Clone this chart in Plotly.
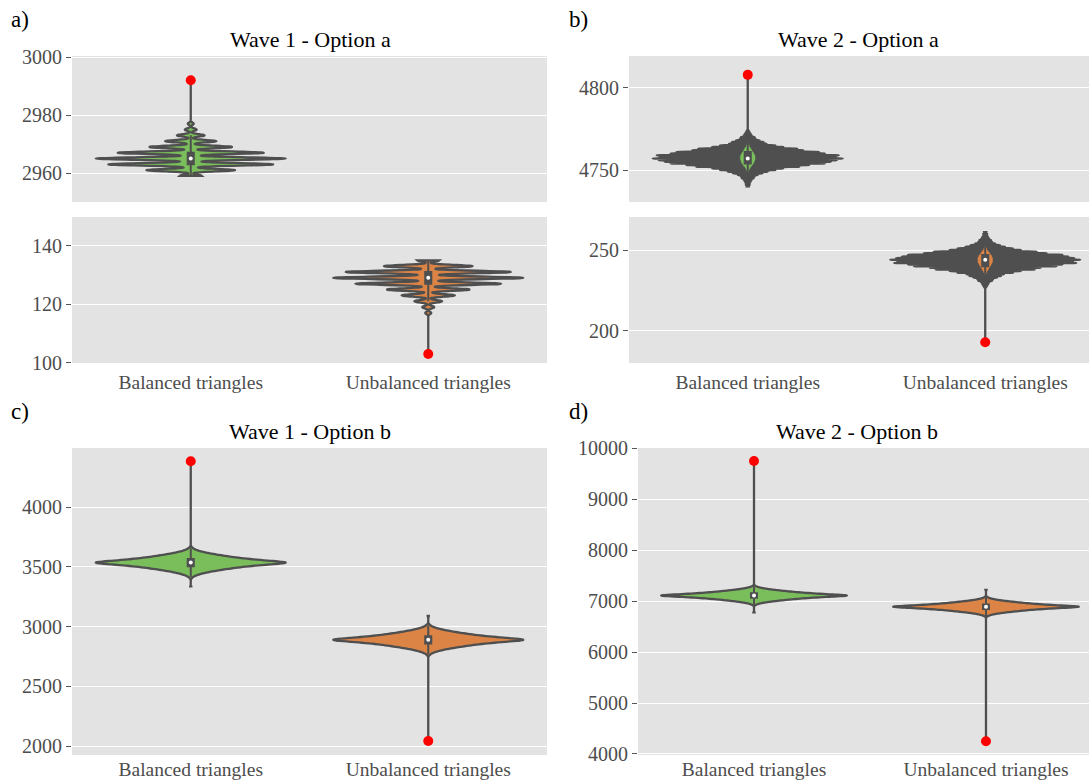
import numpy as np
import plotly.graph_objects as go

W, H = 1089, 782
categories = ["Balanced triangles", "Unbalanced triangles"]

# ---------------- Panel a) Wave 1 - Option a ----------------
w1a_bal_values = [2959, 2961, 2963, 2965, 2967, 2969, 2971, 2973, 2975, 2977, 2992]
w1a_bal_counts = [11, 45, 84, 96, 74, 42, 26, 14, 6, 3, 1]
w1a_unb_values = [103, 117, 119, 121, 123, 125, 127, 129, 131, 133, 135]
w1a_unb_counts = [1, 3, 6, 14, 27, 42, 74, 96, 84, 45, 11]
w1a_red = [2992, 103]

# ---------------- Panel b) Wave 2 - Option a ----------------
w2a_bal_values = [4740, 4741, 4742, 4743, 4744, 4745, 4746, 4747, 4748, 4749,
                  4750, 4751, 4752, 4753, 4754, 4755, 4756, 4757, 4758, 4759,
                  4760, 4761, 4762, 4763, 4764, 4765, 4766, 4767, 4768, 4769,
                  4770, 4771, 4772, 4773, 4774, 4808]
w2a_bal_counts = [1, 2, 2, 3, 4, 6, 7, 10, 15, 20,
                  28, 36, 52, 62, 78, 84, 90, 96, 89, 92,
                  78, 72, 56, 50, 36, 28, 19, 16, 12, 8,
                  7, 4, 3, 2, 1, 1]
w2a_unb_values = [193, 227, 228, 229, 230, 231, 232, 233, 234, 235,
                  236, 237, 238, 239, 240, 241, 242, 243, 244, 245,
                  246, 247, 248, 249, 250, 251, 252, 253, 254, 255,
                  256, 257, 258, 259, 260, 261]
w2a_unb_counts = [1, 1, 2, 3, 4, 7, 8, 12, 16, 19,
                  28, 36, 50, 56, 72, 78, 92, 89, 96, 90,
                  84, 78, 62, 52, 36, 28, 20, 15, 10, 7,
                  6, 4, 3, 2, 2, 1]
w2a_red = [4808, 193]

# ---------------- Panel c) Wave 1 - Option b ----------------
w1b_bal_values = [3336, 3405, 3415, 3425, 3435, 3445, 3455, 3465, 3475, 3485,
                  3495, 3505, 3515, 3525, 3535, 3545, 3555, 3565, 3575, 3585,
                  3595, 3605, 3615, 3625, 3635, 3645, 3655, 3665, 4383]
w1b_bal_counts = [1, 1, 2, 4, 7, 11, 16, 22, 29, 36,
                  44, 54, 66, 80, 96, 80, 66, 54, 44, 36,
                  29, 22, 16, 11, 7, 4, 2, 1, 1]
w1b_unb_values = [2042, 2759, 2769, 2779, 2789, 2799, 2809, 2819, 2829, 2839,
                  2849, 2859, 2869, 2879, 2889, 2899, 2909, 2919, 2929, 2939,
                  2949, 2959, 2969, 2979, 2989, 2999, 3009, 3019, 3088]
w1b_unb_counts = [1, 1, 2, 4, 7, 11, 16, 22, 29, 36,
                  44, 54, 66, 80, 96, 80, 66, 54, 44, 36,
                  29, 22, 16, 11, 7, 4, 2, 1, 1]
w1b_red = [4383, 2042]

# ---------------- Panel d) Wave 2 - Option b ----------------
w2b_bal_values = [6778, 6915, 6930, 6945, 6960, 6975, 6990, 7005, 7020, 7035,
                  7050, 7065, 7080, 7095, 7110, 7125, 7140, 7155, 7170, 7185,
                  7200, 7215, 7230, 7245, 7260, 7275, 7290, 7305, 9750]
w2b_bal_counts = [1, 1, 2, 4, 7, 11, 16, 22, 29, 36,
                  44, 54, 66, 80, 96, 80, 66, 54, 44, 36,
                  29, 22, 16, 11, 7, 4, 2, 1, 1]
w2b_unb_values = [4250, 6695, 6710, 6725, 6740, 6755, 6770, 6785, 6800, 6815,
                  6830, 6845, 6860, 6875, 6890, 6905, 6920, 6935, 6950, 6965,
                  6980, 6995, 7010, 7025, 7040, 7055, 7070, 7085, 7222]
w2b_unb_counts = [1, 1, 2, 4, 7, 11, 16, 22, 29, 36,
                  44, 54, 66, 80, 96, 80, 66, 54, 44, 36,
                  29, 22, 16, 11, 7, 4, 2, 1, 1]
w2b_red = [9750, 4250]

GREEN = "#7abd5b"
ORANGE = "#dc8446"
GREY = "#4f4f4f"
BG = "#e3e3e3"
FONT = '"Liberation Serif", "Times New Roman", Times, "DejaVu Serif", serif'


def expand(values, counts):
    return np.repeat(np.asarray(values, dtype=float), np.asarray(counts))


# subplot layout in pixels: x-domain, y-domain (top, bottom), ranges
panels = [
    dict(x=(72, 547), y=(56, 202), xr=[-0.5, 1.5], yr=[2950, 3000.4], dt=20, lab=False, tl=0,
         data=(w1a_bal_values, w1a_bal_counts, w1a_unb_values, w1a_unb_counts), red=w1a_red, bw=0.42),
    dict(x=(72, 547), y=(217, 363), xr=[-0.5, 1.5], yr=[99.9, 149.8], dt=20, lab=True, tl=2,
         data=(w1a_bal_values, w1a_bal_counts, w1a_unb_values, w1a_unb_counts), red=w1a_red, bw=0.42),
    dict(x=(629, 1089), y=(56, 202), xr=[-0.5, 1.437], yr=[4730.5, 4819.5], dt=50, lab=False, tl=0,
         data=(w2a_bal_values, w2a_bal_counts, w2a_unb_values, w2a_unb_counts), red=w2a_red, bw=0.2),
    dict(x=(629, 1089), y=(217, 363), xr=[-0.5, 1.437], yr=[180.2, 270.4], dt=50, lab=True, tl=2,
         data=(w2a_bal_values, w2a_bal_counts, w2a_unb_values, w2a_unb_counts), red=w2a_red, bw=0.2),
    dict(x=(72, 547), y=(448, 755), xr=[-0.5, 1.5], yr=[1925, 4494], dt=500, lab=True, tl=0,
         data=(w1b_bal_values, w1b_bal_counts, w1b_unb_values, w1b_unb_counts), red=w1b_red, bw=8),
    dict(x=(638, 1089), y=(448, 755), xr=[-0.5, 1.444], yr=[3980, 10005], dt=1000, lab=True, tl=0,
         data=(w2b_bal_values, w2b_bal_counts, w2b_unb_values, w2b_unb_counts), red=w2b_red, bw=11),
]

fig = go.Figure()
layout = dict(
    width=W, height=H, margin=dict(l=0, r=0, t=0, b=0, pad=0),
    paper_bgcolor="white", plot_bgcolor=BG, violinmode="overlay", showlegend=False,
    font=dict(family=FONT, color="#4d4d4d"),
)

for i, p in enumerate(panels, start=1):
    xa = "x" if i == 1 else f"x{i}"
    ya = "y" if i == 1 else f"y{i}"
    xkey = "xaxis" if i == 1 else f"xaxis{i}"
    ykey = "yaxis" if i == 1 else f"yaxis{i}"
    layout[xkey] = dict(
        domain=[p["x"][0] / W, p["x"][1] / W], anchor=ya, type="category",
        categoryorder="array", categoryarray=categories, range=p["xr"],
        showgrid=False, zeroline=False, showline=False, automargin=False,
        showticklabels=p["lab"], ticks="outside" if p["tl"] else "", ticklen=max(p["tl"], 1),
        tickcolor="rgba(0,0,0,0)", tickfont=dict(family=FONT, size=19.5, color="#4d4d4d"),
    )
    layout[ykey] = dict(
        domain=[1 - p["y"][1] / H, 1 - p["y"][0] / H], anchor=xa, range=p["yr"],
        dtick=p["dt"], tick0=0, tickformat="d", showgrid=True, gridcolor="white",
        gridwidth=1.3, automargin=False,
        zeroline=False, showline=False, ticks="outside", ticklen=5, tickwidth=1,
        tickcolor="#555555", tickfont=dict(family=FONT, size=20, color="#4d4d4d"),
    )
    bv, bc, uv, uc = p["data"]
    medians = []
    for cat, vals, cnts, col in [(categories[0], bv, bc, GREEN), (categories[1], uv, uc, ORANGE)]:
        s = expand(vals, cnts)
        medians.append(float(np.median(s)))
        fig.add_trace(go.Violin(
            x=[cat] * len(s), y=s, xaxis=xa, yaxis=ya, width=0.8,
            bandwidth=p["bw"], spanmode="hard", points=False, scalemode="width",
            fillcolor=col, line=dict(color=GREY, width=2.3),
            box=dict(visible=True, width=0.032, fillcolor=GREY, line=dict(color=GREY, width=2)),
            meanline=dict(visible=False), hoverinfo="skip", showlegend=False,
        ))
    fig.add_trace(go.Scatter(
        x=categories, y=medians, xaxis=xa, yaxis=ya, mode="markers",
        marker=dict(color="white", size=4), hoverinfo="skip", showlegend=False,
    ))
    fig.add_trace(go.Scatter(
        x=categories, y=p["red"], xaxis=xa, yaxis=ya, mode="markers",
        marker=dict(color="#ff0000", size=10), hoverinfo="skip", showlegend=False,
    ))

titles = [("Wave 1 - Option a", 310, 40), ("Wave 2 - Option a", 858, 40),
          ("Wave 1 - Option b", 310, 432), ("Wave 2 - Option b", 857, 432)]
labels = [("a)", 9, 20), ("b)", 567, 20), ("c)", 9, 412), ("d)", 567, 412)]
ann = []
for t, x, y in titles:
    ann.append(dict(text=t, x=x / W, y=1 - y / H, xref="paper", yref="paper",
                    xanchor="center", yanchor="middle", showarrow=False,
                    font=dict(family=FONT, size=22, color="black")))
for t, x, y in labels:
    ann.append(dict(text=t, x=x / W, y=1 - y / H, xref="paper", yref="paper",
                    xanchor="left", yanchor="middle", showarrow=False,
                    font=dict(family=FONT, size=23, color="black")))
layout["annotations"] = ann

fig.update_layout(**layout)
fig.write_html("out.html")
